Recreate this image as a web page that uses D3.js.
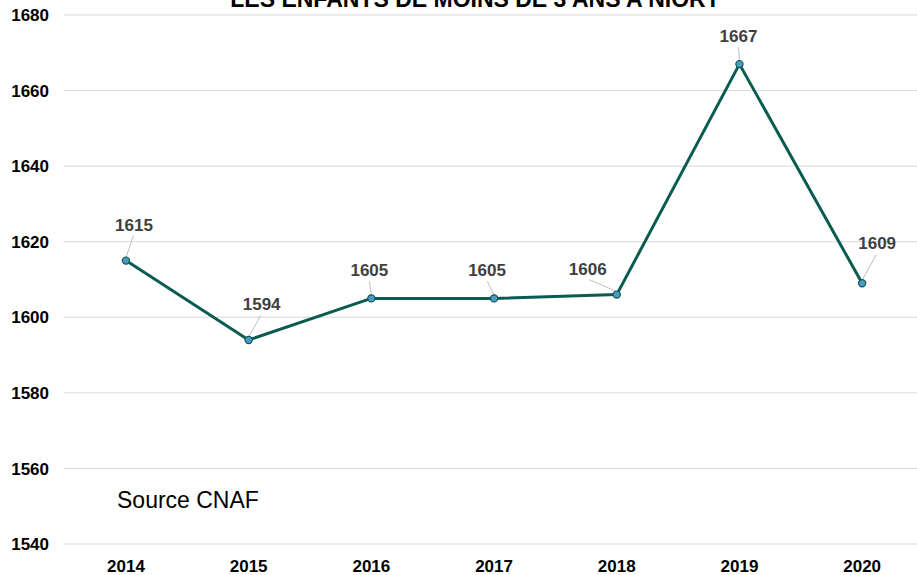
<!DOCTYPE html>
<html><head><meta charset="utf-8">
<script src="https://cdn.jsdelivr.net/npm/d3@7"></script>
<style>body{margin:0;background:#fff}svg{display:block;font-family:"Liberation Sans",Arial,sans-serif}</style>
</head><body>
<svg id="c" width="917" height="575"></svg>
<script>
const title = "LES ENFANTS DE MOINS DE 3 ANS A NIORT";
const years = ["2014","2015","2016","2017","2018","2019","2020"];
const values = [1615,1594,1605,1605,1606,1667,1609];
const yTicks = [1540,1560,1580,1600,1620,1640,1660,1680];
const source = "Source CNAF";
// label placement offsets (px) relative to each point: [dx, dy]
const labelOffsets = [[8,-30],[13,-30],[-2,-22],[-7,-22],[-29,-20],[-1,-22],[15,-34]];

const svg = d3.select("#c");
const x = d3.scaleBand().domain(years).range([64.6, 923.5]);
const y = d3.scaleLinear().domain([1540,1680]).range([544,15]);
const cx = d => x(d) + x.bandwidth()/2;

// gridlines
svg.append("g").selectAll("line").data(yTicks).join("line")
  .attr("x1",64).attr("x2",917).attr("y1",d=>y(d)).attr("y2",d=>y(d))
  .attr("stroke","#d9d9d9").attr("stroke-width",1);

// y axis labels
svg.append("g").selectAll("text").data(yTicks).join("text")
  .attr("x",49).attr("y",d=>y(d)).attr("dy","0.36em")
  .attr("text-anchor","end").attr("font-weight","bold").attr("font-size",17)
  .attr("fill","#000").text(d=>d);

// x axis labels
svg.append("g").selectAll("text").data(years).join("text")
  .attr("x",d=>cx(d)).attr("y",572)
  .attr("text-anchor","middle").attr("font-weight","bold").attr("font-size",17)
  .attr("fill","#000").text(d=>d);

// title (partly cropped at the top, as in the reference)
svg.append("text").attr("x",475).attr("y",7).attr("text-anchor","middle")
  .attr("font-weight","bold").attr("font-size",23).attr("fill","#000").text(title);

// source
svg.append("text").attr("x",117).attr("y",508).attr("font-size",23)
  .attr("fill","#000").text(source);

const pts = years.map((yr,i)=>({yr, v:values[i], off:labelOffsets[i]}));

// leader lines
svg.append("g").selectAll("line").data(pts).join("line")
  .attr("x1",d=>cx(d.yr)).attr("y1",d=>y(d.v)-3)
  .attr("x2",d=>cx(d.yr)+d.off[0]*0.95).attr("y2",d=>y(d.v)+d.off[1]+5)
  .attr("stroke","#bfbfbf").attr("stroke-width",1);

// line
svg.append("path").datum(pts)
  .attr("d",d3.line().x(d=>cx(d.yr)).y(d=>y(d.v)))
  .attr("fill","none").attr("stroke","#0b5c50").attr("stroke-width",3).attr("stroke-linejoin","round");

// markers
svg.append("g").selectAll("circle").data(pts).join("circle")
  .attr("cx",d=>cx(d.yr)).attr("cy",d=>y(d.v)).attr("r",3.6)
  .attr("fill","#4f98c6").attr("stroke","#0b5c50").attr("stroke-width",1.2);

// data labels
svg.append("g").selectAll("text").data(pts).join("text")
  .attr("x",d=>cx(d.yr)+d.off[0]).attr("y",d=>y(d.v)+d.off[1])
  .attr("text-anchor","middle").attr("font-weight","bold").attr("font-size",17)
  .attr("fill","#404040").text(d=>d.v);
</script>
</body></html>
